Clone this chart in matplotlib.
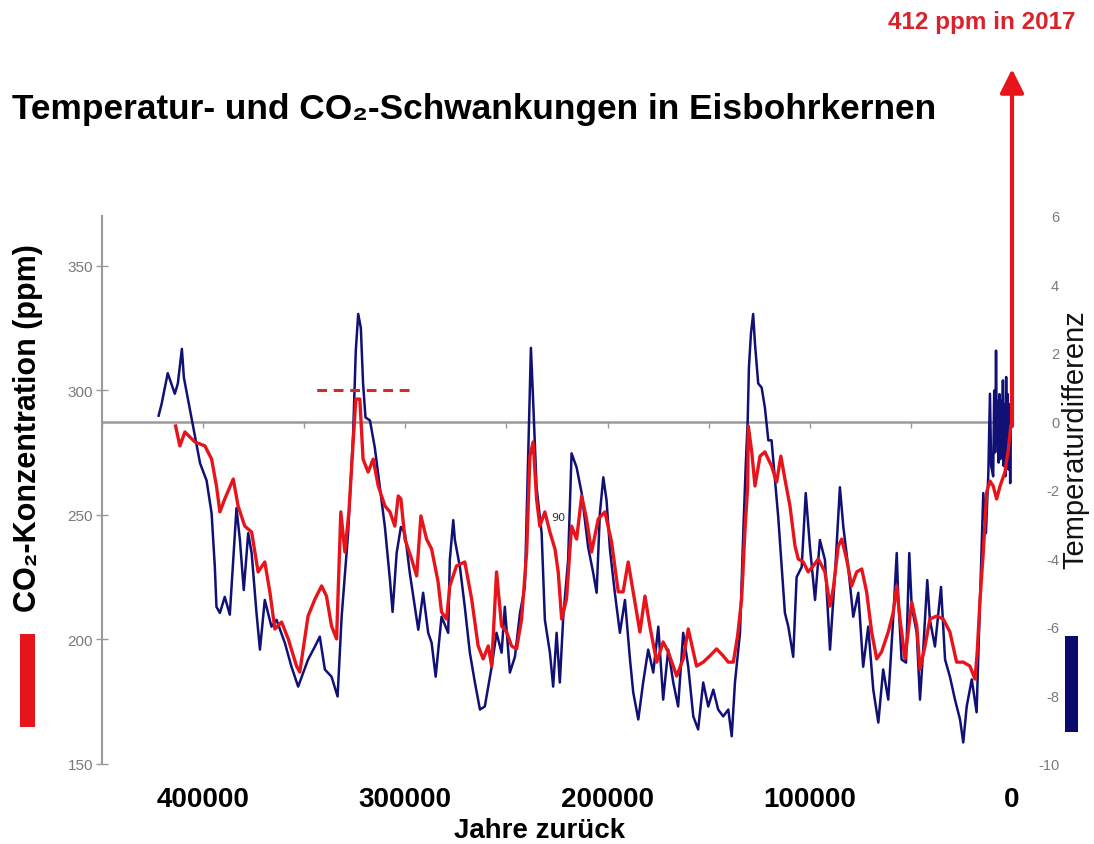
import matplotlib
matplotlib.use("Agg")
import matplotlib.pyplot as plt
from matplotlib.patches import Rectangle

# ---------------- data ----------------
temp_years = [422000, 420500, 417500, 414000, 412500, 410500, 409500, 405500, 401500, 398300,
              395800, 394200, 393400, 391700, 389300, 386800, 384300, 383500, 381800, 379900,
              377700, 376000, 373600, 371900, 369500, 366200, 363700, 359600, 356300, 353000,
              348100, 344700, 342300, 339800, 336500, 333500, 331500, 328300, 325800, 324500,
              323300, 322000, 320900, 319700, 317500, 315100, 312600, 310100, 307600, 306300,
              304300, 302200, 300200, 297800, 295300, 293600, 291200, 288700, 287000, 285000,
              282100, 278800, 278000, 276300, 275500, 273000, 270600, 268100, 265600, 263100,
              260700, 257300, 254900, 252400, 250800, 248300, 245800, 243300, 240900, 239200,
              237900, 236800, 235100, 232600, 231000, 228500, 226900, 225200, 223600, 221900,
              219500, 217800, 215300, 212800, 209600, 207100, 205400, 203800, 202100, 200500,
              198800, 196400, 193900, 191400, 188900, 187300, 184800, 182400, 179900, 177400,
              174900, 172500, 170000, 167500, 165100, 162600, 160100, 157600, 155200, 152700,
              150200, 147700, 145300, 142800, 140300, 138600, 137000, 134500, 132900, 131700,
              130700, 130100, 129100, 128000, 127100, 125500, 123800, 122200, 120500, 118900,
              117200, 115600, 113900, 112300, 110600, 108200, 106500, 104000, 102000, 99900,
              97400, 95000, 92500, 90000, 87500, 85100, 83400, 81000, 78500, 76000,
              73600, 71100, 68600, 66100, 63700, 61200, 58700, 57000, 56200, 54600,
              52400, 50800, 49600, 47100, 45500, 43900, 41900, 40600, 38100, 35100,
              33100, 30700, 28200, 25700, 24100, 22400, 19900, 17500, 15800, 14200,
              12900, 11700, 10900, 10300,
              9300, 8800, 8300, 7900, 7500, 7000, 6600, 6200, 5800, 5300, 4900, 4500,
              4100, 3700, 3300, 2900, 2500, 2100, 1700, 1300, 900, 500, 200]
temp_diff = [0.17, 0.52, 1.41, 0.81, 1.11, 2.12, 1.28, 0.03, -1.22, -1.72,
             -2.68, -4.25, -5.41, -5.59, -5.12, -5.64, -3.26, -2.53, -3.46, -4.92,
             -3.26, -3.84, -5.59, -6.66, -5.21, -5.99, -5.79, -6.46, -7.16, -7.74,
             -6.95, -6.57, -6.28, -7.24, -7.45, -8.03, -5.70, -3.26, -0.35, 2.07,
             3.14, 2.73, 1.11, 0.12, 0.03, -0.76, -1.92, -3.08, -4.63, -5.56,
             -3.84, -3.08, -3.26, -4.42, -5.41, -6.08, -5.00, -6.17, -6.46, -7.45,
             -5.70, -6.17, -4.04, -2.88, -3.46, -4.25, -5.41, -6.75, -7.62, -8.41,
             -8.32, -7.16, -6.17, -6.75, -5.41, -7.33, -6.87, -5.59, -4.83, -0.84,
             2.15, 0.61, -1.92, -3.26, -5.79, -6.75, -7.74, -6.17, -7.62, -5.70,
             -4.04, -0.93, -1.34, -2.09, -3.67, -4.42, -5.00, -2.68, -1.63, -2.30,
             -3.75, -5.00, -6.17, -5.21, -6.95, -7.91, -8.70, -7.62, -6.66, -7.33,
             -5.99, -8.12, -6.66, -7.62, -8.32, -6.17, -7.16, -8.61, -8.99, -7.62,
             -8.32, -7.83, -8.41, -8.61, -8.41, -9.19, -7.62, -6.17, -3.26, -1.34,
             0.03, 1.57, 2.56, 3.14, 2.27, 1.11, 0.99, 0.41, -0.55, -0.55,
             -1.72, -2.79, -4.25, -5.59, -5.99, -6.87, -4.54, -4.25, -2.09, -3.67,
             -5.21, -3.46, -4.04, -6.66, -4.42, -1.92, -3.08, -4.25, -5.70, -5.00,
             -7.16, -5.99, -7.83, -8.79, -7.24, -8.12, -5.70, -3.84, -5.21, -6.95,
             -7.04, -3.84, -5.41, -6.17, -8.12, -6.66, -4.63, -5.79, -6.57, -4.83,
             -6.95, -7.45, -8.12, -8.70, -9.37, -8.32, -7.53, -8.49, -5.21, -2.09,
             -3.26, -1.51, 0.81, -1.3,
             -1.6, 0.9, -0.9, 2.07, -0.7, 0.6, -1.2, 0.8, -1.1, 0.6, -0.9, 1.2,
             -1.3, 0.5, -1.6, 1.3, -0.8, 0.8, -1.4, 0.5, -1.8, 0.2, -0.6]

co2_years = [413600, 411500, 409000, 404100, 399100, 395800, 393400, 391700, 389300, 385100,
             382700, 379400, 376000, 372800, 369500, 367000, 364500, 361200, 357900, 353800,
             352200, 348100, 344700, 341400, 339000, 336500, 334000, 331900, 329900, 327900,
             325800, 324500, 322500, 320900, 318400, 315900, 313400, 310100, 307600, 305200,
             303500, 302200, 300200, 296900, 294400, 292300, 289500, 287000, 283800, 282100,
             279600, 278000, 274700, 270600, 267200, 264000, 261500, 259000, 257300, 254900,
             252400, 249900, 247500, 245000, 242500, 240000, 238400, 236800, 235100, 233500,
             231000, 228500, 226000, 224400, 222700, 220300, 217800, 215300, 212800, 210400,
             207900, 204600, 201300, 198000, 194700, 192300, 189800, 187300, 184000, 181500,
             179100, 175700, 172500, 170000, 165800, 162600, 160100, 156000, 152700, 149400,
             146100, 142800, 140300, 137800, 135700, 133700, 132100, 130700, 130400, 128700,
             127100, 124600, 122200, 118900, 116400, 114300, 112300, 109800, 107300, 105700,
             103200, 100800, 98300, 95800, 92500, 90000, 88400, 85900, 84200, 81800,
             79300, 76800, 74300, 71900, 69400, 66900, 64500, 61200, 58700, 57000,
             55400, 52900, 49600, 47100, 45500, 43000, 40600, 37200, 34000, 30700,
             27400, 24100, 20800, 18300, 17200, 15800, 14200, 12500, 10900, 9300,
             7600, 5900, 3500, 1800, 600]
co2_ppm = [285.7, 277.7, 283.3, 279.3, 277.7, 272.4, 261.6, 251.2, 256.4, 264.4,
           253.6, 245.5, 243.1, 227.1, 231.1, 219.1, 204.2, 207.0, 200.2, 189.3,
           186.9, 209.4, 216.2, 221.5, 217.4, 205.4, 200.2, 251.2, 235.1, 251.2,
           279.3, 296.5, 296.5, 272.4, 267.2, 272.4, 261.6, 253.6, 251.2, 245.5,
           257.6, 256.4, 240.3, 232.3, 225.5, 249.6, 240.3, 236.3, 223.1, 211.0,
           208.2, 221.5, 229.5, 231.1, 216.2, 197.4, 192.2, 197.4, 189.3, 227.1,
           205.4, 203.0, 197.4, 196.2, 208.2, 235.1, 273.6, 279.3, 256.4, 245.5,
           251.2, 243.1, 236.3, 227.1, 208.2, 216.2, 245.5, 240.3, 257.6, 248.4,
           235.1, 248.4, 251.2, 239.1, 219.1, 219.1, 231.1, 219.1, 203.0, 217.4,
           205.4, 190.9, 199.0, 195.0, 185.3, 192.2, 204.2, 189.3, 190.9, 193.4,
           196.2, 193.4, 190.9, 190.9, 201.4, 216.2, 243.1, 261.6, 285.7, 275.3,
           261.6, 273.6, 275.3, 269.6, 263.2, 273.6, 264.4, 253.6, 237.5, 232.3,
           231.1, 227.1, 229.5, 232.3, 227.1, 213.4, 220.3, 237.5, 240.3, 232.3,
           221.5, 227.1, 228.3, 219.1, 203.0, 192.2, 195.0, 203.0, 211.0, 221.5,
           208.2, 192.2, 215.0, 205.4, 188.1, 197.4, 208.2, 209.4, 208.2, 203.0,
           190.9, 190.9, 189.3, 184.1, 195.0, 216.2, 235.1, 259.2, 263.6, 261.6,
           256.4, 261.6, 267.2, 276.5, 285.7]

# modern value arrow (2017) and reference level
arrow_start_ppm = 285.7
arrow_tip_ppm = 429
ref_level_ppm = 300
ref_level_years = [345000, 298000]

x_ticks = [400000, 300000, 200000, 100000, 0]
x_tick_labels = ["400000", "300000", "200000", "100000", "0"]
co2_ticks = [150, 200, 250, 300, 350]
temp_ticks = [6, 4, 2, 0, -2, -4, -6, -8, -10]

RED = "#e8141c"
NAVY = "#101075"
GRAY = "#9a9a9a"
LBLGRAY = "#7a7a7a"
FAM = ["Liberation Sans", "DejaVu Sans"]

# ---------------- figure ----------------
fig = plt.figure(figsize=(10.94, 8.45), dpi=100)
rect = [102 / 1094, 80 / 845, 910 / 1094, 548 / 845]

ax_t = fig.add_axes(rect)          # temperature (behind)
ax_c = fig.add_axes(rect)          # CO2 (front)
ax_c.patch.set_visible(False)

for a in (ax_t, ax_c):
    a.set_xlim(450000, 0)
    for s in a.spines.values():
        s.set_visible(False)

# temperature axis
ax_t.set_ylim(-10, 5.94)
ax_t.plot(temp_years, temp_diff, color=NAVY, lw=1.8, zorder=2)
ax_t.spines["bottom"].set_visible(True)
ax_t.spines["bottom"].set_position(("data", 0))
ax_t.spines["bottom"].set_color(GRAY)
ax_t.spines["bottom"].set_linewidth(1.8)
ax_t.spines["bottom"].set_zorder(1)
ax_t.set_xticks(range(0, 450001, 50000))
ax_t.tick_params(axis="x", direction="out", length=4, width=1, color=GRAY,
                 labelbottom=False)
ax_t.yaxis.tick_right()
ax_t.set_yticks(temp_ticks)
ax_t.set_yticklabels([str(v) for v in temp_ticks])
ax_t.tick_params(axis="y", length=0, pad=34, labelsize=10.5, labelcolor=LBLGRAY)
for lbl in ax_t.get_yticklabels():
    lbl.set_ha("right")
    lbl.set_family(FAM)

# CO2 axis
ax_c.set_ylim(150, 370)
ax_c.plot(co2_years, co2_ppm, color=RED, lw=2.4, zorder=3)
ax_c.hlines(ref_level_ppm, ref_level_years[1], ref_level_years[0], colors="#d42a2a",
            linestyles=(0, (3.2, 2.2)), lw=2.2, zorder=3)
ax_c.annotate("", xy=(0, arrow_tip_ppm), xytext=(0, arrow_start_ppm),
              arrowprops=dict(arrowstyle="-|>", color=RED, lw=3, mutation_scale=36,
                              shrinkA=0, shrinkB=0),
              annotation_clip=False, zorder=4)
ax_c.spines["left"].set_visible(True)
ax_c.spines["left"].set_color(GRAY)
ax_c.spines["left"].set_linewidth(1.5)
ax_c.set_yticks(co2_ticks)
ax_c.set_yticklabels([str(v) for v in co2_ticks])
ax_c.tick_params(axis="y", direction="inout", length=9, width=1, color=GRAY, pad=2,
                 labelsize=11, labelcolor=LBLGRAY)
for lbl in ax_c.get_yticklabels():
    lbl.set_family(FAM)
ax_c.set_xticks(x_ticks)
ax_c.set_xticklabels(x_tick_labels)
ax_c.tick_params(axis="x", length=0, pad=16)
for lbl in ax_c.get_xticklabels():
    lbl.set_family(FAM)
    lbl.set_fontweight("bold")
    lbl.set_fontsize(20)
    lbl.set_color("black")

# stray small label
ax_c.text(224500, 249, "90", fontsize=8, color="#333333", ha="center", va="center")

# ---------------- texts ----------------
fig.text(12 / 1094, 1 - 110 / 845, "Temperatur- und CO\u2082-Schwankungen in Eisbohrkernen",
         fontsize=25.4, fontweight="bold", family=FAM, ha="left", va="center")
fig.text(1075 / 1094, 1 - 22 / 845, "412 ppm in 2017", fontsize=17.5, fontweight="bold",
         family=FAM, color="#d9232a", ha="right", va="center")
fig.text(540 / 1094, 1 - 831 / 845, "Jahre zur\u00fcck", fontsize=20, fontweight="bold",
         family=FAM, ha="center", va="center")
fig.text(28 / 1094, 1 - 428 / 845, "CO\u2082-Konzentration (ppm)", fontsize=22,
         fontweight="bold", family=FAM, rotation=90, ha="center", va="center")
fig.text(1075 / 1094, 1 - 440 / 845, "Temperaturdifferenz", fontsize=21,
         family=FAM, rotation=90, ha="center", va="center", color="#111111")

fig.add_artist(Rectangle((20 / 1094, 117 / 845), 15 / 1094, 93 / 845,
                         transform=fig.transFigure, color=RED, lw=0))
fig.add_artist(Rectangle((1065 / 1094, 112 / 845), 13 / 1094, 96 / 845,
                         transform=fig.transFigure, color="#0b0b6e", lw=0))

fig.savefig("out.png", dpi=100)
